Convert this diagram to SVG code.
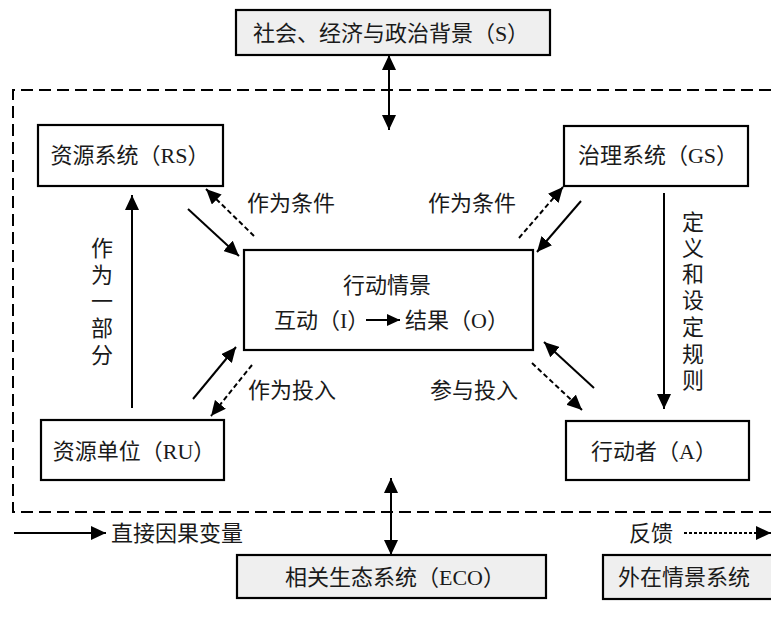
<svg xmlns="http://www.w3.org/2000/svg" width="771" height="617" viewBox="0 0 771 617">
<style>
  text { font-family: "Liberation Serif", "Noto Sans CJK SC", serif; font-size: 22px; fill: #1a1a1a; dominant-baseline: central; }
  .c { text-anchor: middle; }
  .box { fill: #ffffff; stroke: #000; stroke-width: 2.2; }
  .gbox { fill: #efefef; stroke: #000; stroke-width: 2.2; }
  .ln { fill: none; stroke: #000; stroke-width: 2; }
  .ar { marker-end: url(#ah); }
  .dar { marker-start: url(#ah); marker-end: url(#ah); }
  .dash { stroke-dasharray: 5 3; }
</style>
<defs>
  <marker id="ah" markerUnits="userSpaceOnUse" markerWidth="15" markerHeight="14" refX="15" refY="7" orient="auto-start-reverse">
    <path d="M0,0 L15,7 L0,14 z" fill="#000"/>
  </marker>
  <marker id="ahs" markerUnits="userSpaceOnUse" markerWidth="13" markerHeight="12" refX="13" refY="6" orient="auto">
    <path d="M0,0 L13,6 L0,12 z" fill="#000"/>
  </marker>
</defs>

<path d="M771,90 H13 V512 H771" fill="none" stroke="#000" stroke-width="2" stroke-dasharray="12 6"/>

<g id="node-S">
  <rect class="gbox" x="236" y="10" width="314" height="45"/>
  <text class="c" x="391" y="33">社会、经济与政治背景（S）</text>
</g>
<g id="node-RS">
  <rect class="box" x="38" y="125" width="185" height="61"/>
  <text class="c" x="130" y="155">资源系统（RS）</text>
</g>
<g id="node-GS">
  <rect class="box" x="564" y="126" width="184" height="60"/>
  <text class="c" x="658" y="155">治理系统（GS）</text>
</g>
<g id="node-AS">
  <rect class="box" x="244" y="250" width="289" height="100"/>
  <text class="c" x="387" y="285">行动情景</text>
  <text x="274" y="320">互动（I）</text>
  <line class="ln" x1="366" y1="320" x2="400" y2="320" marker-end="url(#ahs)"/>
  <text x="405" y="320">结果（O）</text>
</g>
<g id="node-RU">
  <rect class="box" x="41" y="420" width="183" height="60"/>
  <text class="c" x="134" y="451">资源单位（RU）</text>
</g>
<g id="node-A">
  <rect class="box" x="566" y="421" width="183" height="59"/>
  <text class="c" x="654" y="451">行动者（A）</text>
</g>
<g id="node-ECO">
  <rect class="gbox" x="237" y="555" width="309" height="43"/>
  <text class="c" x="395" y="577">相关生态系统（ECO）</text>
</g>
<g id="node-EXT">
  <rect class="gbox" x="603" y="555" width="172" height="44"/>
  <text class="c" x="684" y="577">外在情景系统</text>
</g>

<g id="connectors">
  <line class="ln dar" x1="389" y1="55" x2="389" y2="130"/>
  <line class="ln dar" x1="391" y1="478" x2="391" y2="555"/>
  <line class="ln ar" x1="132" y1="408" x2="132" y2="195"/>
  <line class="ln ar" x1="664" y1="193" x2="664" y2="409"/>
  <line class="ln ar" x1="188" y1="209" x2="239" y2="256"/>
  <line class="ln ar dash" x1="254" y1="236" x2="206" y2="189"/>
  <line class="ln ar dash" x1="519" y1="238" x2="563" y2="187"/>
  <line class="ln ar" x1="581" y1="201" x2="537" y2="252"/>
  <line class="ln ar" x1="193" y1="399" x2="236" y2="347"/>
  <line class="ln ar dash" x1="252" y1="365" x2="211" y2="416"/>
  <line class="ln ar" x1="594" y1="388" x2="544" y2="342"/>
  <line class="ln ar dash" x1="532" y1="363" x2="582" y2="410"/>
  <line class="ln ar" x1="14" y1="533" x2="106" y2="533"/>
  <line class="ln ar" x1="684" y1="533" x2="771" y2="533" stroke-dasharray="3 2"/>
</g>

<g id="labels">
  <text class="c" x="291" y="203">作为条件</text>
  <text class="c" x="472" y="203">作为条件</text>
  <text class="c" x="292" y="390">作为投入</text>
  <text class="c" x="474" y="390">参与投入</text>
  <text class="c" x="102" y="248">作</text>
  <text class="c" x="102" y="275">为</text>
  <text class="c" x="102" y="301">一</text>
  <text class="c" x="102" y="328">部</text>
  <text class="c" x="102" y="355">分</text>
  <text class="c" x="693" y="222">定</text>
  <text class="c" x="693" y="248">义</text>
  <text class="c" x="693" y="274">和</text>
  <text class="c" x="693" y="300">设</text>
  <text class="c" x="693" y="327">定</text>
  <text class="c" x="693" y="354">规</text>
  <text class="c" x="693" y="380">则</text>
  <text x="111" y="533">直接因果变量</text>
  <text x="629" y="533">反馈</text>
</g>
</svg>
